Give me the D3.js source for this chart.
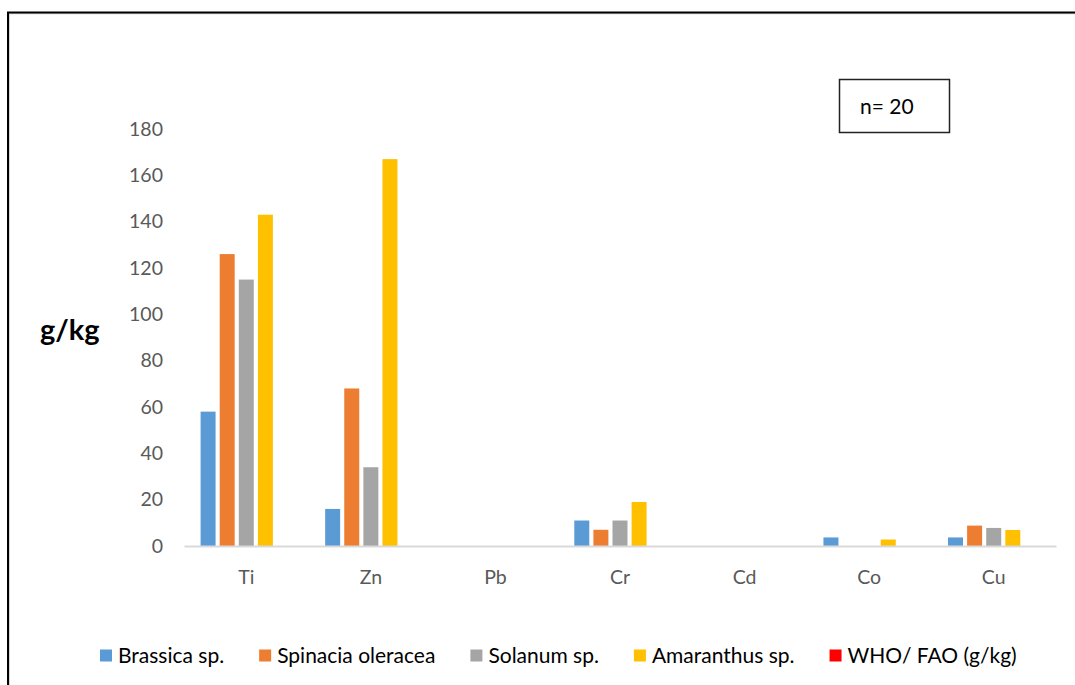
<!DOCTYPE html>
<html>
<head>
<meta charset="utf-8">
<script src="https://cdn.jsdelivr.net/npm/d3@7"></script>
<style>
  html, body { margin: 0; padding: 0; background: #fff; }
  svg { display: block; }
  text { font-family: Lato, "Open Sans", sans-serif; }
</style>
</head>
<body>
<svg id="chart" width="1075" height="685"></svg>
<script>
// Heavy-metal content per element, g/kg
const elements = ["Ti", "Zn", "Pb", "Cr", "Cd", "Co", "Cu"];
const seriesNames = ["Brassica sp.", "Spinacia oleracea", "Solanum sp.", "Amaranthus sp.", "WHO/ FAO (g/kg)"];
const seriesColors = ["#5b9bd5", "#ed7d31", "#a5a5a5", "#ffc000", "#ff0000"];
const brassica   = [58, 16, 0, 11, 0, 3.7, 3.7];
const spinacia   = [126, 68, 0, 7, 0, 0, 8.8];
const solanum    = [115, 34, 0, 11, 0, 0, 7.8];
const amaranthus = [143, 167, 0, 19, 0, 2.8, 6.9];
const whoFao     = [null, null, null, null, null, null, null];
const yTicks = [0, 20, 40, 60, 80, 100, 120, 140, 160, 180];
const sampleLabel = "n= 20";

const seriesValues = [brassica, spinacia, solanum, amaranthus, whoFao];

const svg = d3.select("#chart");

// outer frame
svg.append("rect")
  .attr("x", 9).attr("y", 13.5).attr("width", 1100).attr("height", 700)
  .attr("fill", "none").attr("stroke", "#c8c8c8").attr("stroke-width", 1.5);
svg.append("rect")
  .attr("x", 8).attr("y", 12.5).attr("width", 1100).attr("height", 700)
  .attr("fill", "none").attr("stroke", "#000").attr("stroke-width", 2);

const x = d3.scaleBand().domain(elements).range([184, 1056]).paddingInner(0).paddingOuter(0);
const xs = d3.scaleBand().domain(d3.range(seriesNames.length)).range([0, x.bandwidth()])
  .paddingInner(0.215).paddingOuter(0.868);
const y = d3.scaleLinear().domain([0, 180]).range([546, 129]);

// y axis labels
const yAxis = d3.axisLeft(y).tickValues(yTicks).tickSize(0).tickPadding(0);
const gy = svg.append("g").attr("transform", "translate(163,0)").call(yAxis);
gy.select(".domain").remove();
gy.selectAll("text")
  .attr("font-size", 19.5).attr("fill", "#595959")
  .attr("font-family", "Lato, 'Open Sans', sans-serif");

// bars
seriesValues.forEach((vals, si) => {
  svg.append("g").selectAll("rect")
    .data(elements.map((e, i) => ({ e, v: vals[i] })).filter(d => d.v != null && d.v > 0))
    .join("rect")
    .attr("x", d => x(d.e) + xs(si))
    .attr("width", xs.bandwidth())
    .attr("y", d => y(d.v))
    .attr("height", d => y(0) - y(d.v))
    .attr("fill", seriesColors[si]);
});

// x axis
const xAxis = d3.axisBottom(x).tickSize(0).tickPadding(0);
const gx = svg.append("g").attr("transform", `translate(0,${y(0)})`).call(xAxis);
gx.select(".domain").attr("stroke", "#d9d9d9").attr("stroke-width", 2);
gx.selectAll("text")
  .attr("dy", null).attr("y", 38)
  .attr("font-size", 19.5).attr("fill", "#595959")
  .attr("font-family", "Lato, 'Open Sans', sans-serif");

// y axis title
svg.append("text")
  .attr("x", 40).attr("y", 340)
  .attr("font-size", 29).attr("font-weight", "bold").attr("fill", "#000")
  .text("g/kg");

// sample size box
svg.append("rect")
  .attr("x", 839.5).attr("y", 79.5).attr("width", 110).attr("height", 53)
  .attr("fill", "#fff").attr("stroke", "#222").attr("stroke-width", 1.5);
svg.append("text")
  .attr("x", 860).attr("y", 114)
  .attr("font-size", 21).attr("fill", "#000")
  .text(sampleLabel);

// legend
const legend = svg.append("g");
let lx = 100;
seriesNames.forEach((name, i) => {
  legend.append("rect")
    .attr("x", lx).attr("y", 649.5).attr("width", 12).attr("height", 12)
    .attr("fill", seriesColors[i]);
  const t = legend.append("text")
    .attr("x", lx + 18).attr("y", 663)
    .attr("font-size", 21).attr("fill", "#000")
    .text(name);
  lx += 18 + t.node().getComputedTextLength() + 35;
});
</script>
</body>
</html>
